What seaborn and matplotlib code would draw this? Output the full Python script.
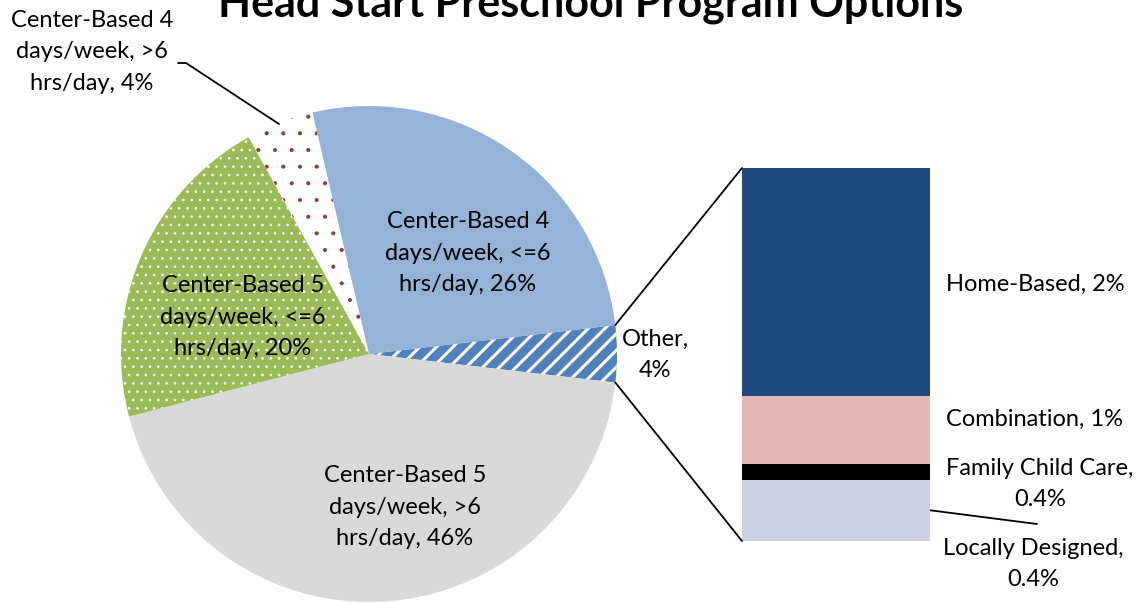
import numpy as np
import matplotlib
matplotlib.use("Agg")
import matplotlib.pyplot as plt
from matplotlib.patches import ConnectionPatch
import seaborn as sns

sns.set_theme(style="white")
plt.rcParams['font.family'] = ['Lato', 'DejaVu Sans']
plt.rcParams['text.color'] = 'black'
plt.rcParams['hatch.linewidth'] = 2.2

# pie data (clockwise from the "Other" slice), shares
pie_labels = ["Other,\n4%",
              "Center-Based 5\ndays/week, >6\nhrs/day, 46%",
              "Center-Based 5\ndays/week, <=6\nhrs/day, 20%",
              "Center-Based 4\ndays/week, >6\nhrs/day, 4%",
              "Center-Based 4\ndays/week, <=6\nhrs/day, 26%"]
pie_shares = [3.7, 44.1, 21.0, 4.4, 26.8]
pie_colors = ['#4F81BD', '#D9D9D9', '#9BBB59', '#FFFFFF', '#95B3D7']
pie_hatch = ['//', None, '..', '.', None]
pie_hatch_col = ['#FFFFFF', '#D9D9D9', '#FFFFFF', '#953735', '#95B3D7']
pie_hatch_lw = [2.2, 0, 0.7, 0.5, 0]

# breakdown of "Other" (bottom to top)
bar_labels = ["Locally Designed,\n0.4%", "Family Child Care,\n0.4%",
              "Combination, 1%", "Home-Based, 2%"]
bar_values = [0.61, 0.15, 0.68, 2.26]
bar_colors = ['#C8D2E4', '#000000', '#E6B9B8', '#1F497D']

W, H = 1148, 603
fig = plt.figure(figsize=(W / 100, H / 100), dpi=100)
ax = fig.add_axes([0, 0, 1, 1])

cx, cy, r = 369, H - 354, 248
wedges, _ = ax.pie(pie_shares, colors=pie_colors, startangle=6.7, counterclock=False,
                   center=(cx, cy), radius=r, wedgeprops=dict(linewidth=0))
for w, h, hc, hlw in zip(wedges, pie_hatch, pie_hatch_col, pie_hatch_lw):
    if h:
        w.set_hatch(h)
        w.set_edgecolor(hc)
        w.set_linewidth(0)
        if hasattr(w, 'set_hatch_linewidth'):
            w.set_hatch_linewidth(hlw)
ax.set_xlim(0, W)
ax.set_ylim(0, H)
ax.set_aspect('equal')
ax.axis('off')

fs = 17
ls = 1.6
ax.text(405, H - 507, pie_labels[1], ha='center', va='center', fontsize=fs, linespacing=ls)
ax.text(243, H - 317, pie_labels[2], ha='center', va='center', fontsize=fs, linespacing=ls)
ax.text(468, H - 253, pie_labels[4], ha='center', va='center', fontsize=fs, linespacing=ls)
ax.text(92, H - 52, pie_labels[3], ha='center', va='center', fontsize=fs, linespacing=ls)
ax.text(655, H - 355, pie_labels[0], ha='center', va='center', fontsize=fs, linespacing=ls)
ax.plot([178, 186, 279], [H - 63, H - 63, H - 124], color='black', lw=1.3)

# bar of "Other"
bx = fig.add_axes([742 / W, (H - 541) / H, 188 / W, 373 / H])
bottoms = np.concatenate([[0], np.cumsum(bar_values)[:-1]])
bx.bar([0] * 4, bar_values, bottom=bottoms, width=1, color=bar_colors, linewidth=0)
bx.set_xlim(-0.5, 0.5)
bx.set_ylim(0, sum(bar_values))
bx.axis('off')

ax.text(1035, H - 284, bar_labels[3], ha='center', va='center', fontsize=fs)
ax.text(1035, H - 419, bar_labels[2], ha='center', va='center', fontsize=fs)
ax.text(1040, H - 484, bar_labels[1], ha='center', va='center', fontsize=fs, linespacing=ls)
ax.text(1033, H - 564, bar_labels[0], ha='center', va='center', fontsize=fs, linespacing=ls)
ax.plot([928, 1037], [H - 510, H - 524], color='black', lw=1.3)

# connector lines from the "Other" wedge to the bar
t1, t2 = np.radians(wedges[0].theta1), np.radians(wedges[0].theta2)
for t, yb in [(t2, sum(bar_values)), (t1, 0)]:
    p = (cx + r * np.cos(t), cy + r * np.sin(t))
    con = ConnectionPatch(xyA=p, coordsA=ax.transData, xyB=(-0.5, yb), coordsB=bx.transData,
                          color='black', lw=1.3)
    fig.add_artist(con)

fig.text(591 / W, 1 - 17 / H, "Head Start Preschool Program Options", ha='center',
         va='baseline', fontsize=31, fontweight='bold')

plt.savefig('out.png', dpi=100)
